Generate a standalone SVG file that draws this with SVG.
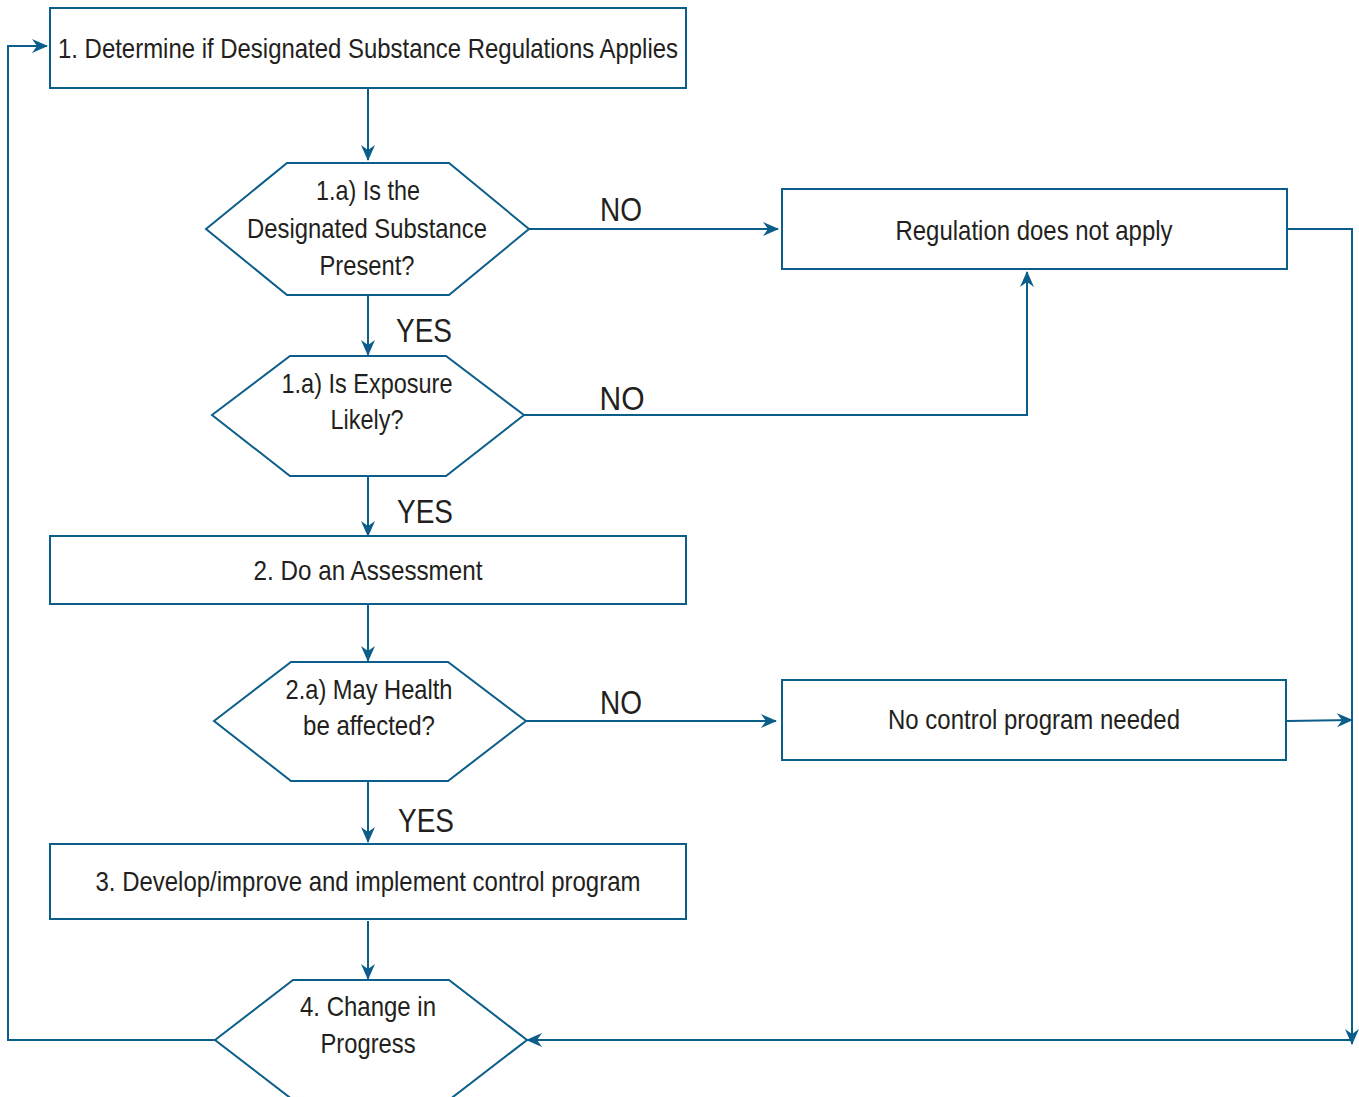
<svg xmlns="http://www.w3.org/2000/svg" width="1359" height="1097" viewBox="0 0 1359 1097">
<defs>
<marker id="ah" markerUnits="userSpaceOnUse" markerWidth="16" markerHeight="14" refX="15" refY="7" orient="auto">
<path d="M0,0 L16,7 L0,14 L5,7 z" fill="#0b5e89"/>
</marker>
</defs>
<style>
.shape{fill:#fff;stroke:#0b5e89;stroke-width:2}
.conn{fill:none;stroke:#0b5e89;stroke-width:2}
.t{font-family:"Liberation Sans",Arial,sans-serif;font-size:28px;fill:#231f20;text-anchor:middle}
.lbl{font-family:"Liberation Sans",Arial,sans-serif;font-size:33px;fill:#231f20;text-anchor:middle}
</style>
<rect width="1359" height="1097" fill="#fff"/>
<g id="connectors">
<path class="conn" d="M368,88 V160" marker-end="url(#ah)"/>
<path class="conn" d="M529,229 H778" marker-end="url(#ah)"/>
<path class="conn" d="M1287,229 H1352 V1044" marker-end="url(#ah)"/>
<path class="conn" d="M368,295 V355" marker-end="url(#ah)"/>
<path class="conn" d="M524,415 H1027 V272" marker-end="url(#ah)"/>
<path class="conn" d="M368,476 V536" marker-end="url(#ah)"/>
<path class="conn" d="M368,604 V661" marker-end="url(#ah)"/>
<path class="conn" d="M526,721 H776" marker-end="url(#ah)"/>
<path class="conn" d="M1287,721 L1352,720" marker-end="url(#ah)"/>
<path class="conn" d="M368,781 V842" marker-end="url(#ah)"/>
<path class="conn" d="M368,921 V979" marker-end="url(#ah)"/>
<path class="conn" d="M1352,1040 H527" marker-end="url(#ah)"/>
<path class="conn" d="M215,1040 H8 V46 H47" marker-end="url(#ah)"/>
<text class="lbl" x="621" y="221" textLength="42" lengthAdjust="spacingAndGlyphs">NO</text>
<text class="lbl" x="424" y="342" textLength="56" lengthAdjust="spacingAndGlyphs">YES</text>
<text class="lbl" x="622" y="410" textLength="45" lengthAdjust="spacingAndGlyphs">NO</text>
<text class="lbl" x="425" y="523" textLength="56" lengthAdjust="spacingAndGlyphs">YES</text>
<text class="lbl" x="621" y="714" textLength="42" lengthAdjust="spacingAndGlyphs">NO</text>
<text class="lbl" x="426" y="832" textLength="56" lengthAdjust="spacingAndGlyphs">YES</text>
</g>
<g id="n1">
<rect class="shape" x="50" y="8" width="636" height="80"/>
<text class="t" x="368" y="58" textLength="620" lengthAdjust="spacingAndGlyphs">1. Determine if Designated Substance Regulations Applies</text>
</g>
<g id="d1">
<polygon class="shape" points="206,229 287,163 449,163 529,229 449,295 287,295"/>
<text class="t" x="368" y="200" textLength="104" lengthAdjust="spacingAndGlyphs">1.a) Is the</text>
<text class="t" x="367" y="238" textLength="240" lengthAdjust="spacingAndGlyphs">Designated Substance</text>
<text class="t" x="367" y="275" textLength="95" lengthAdjust="spacingAndGlyphs">Present?</text>
</g>
<g id="n_reg">
<rect class="shape" x="782" y="189" width="505" height="80"/>
<text class="t" x="1034" y="240" textLength="277" lengthAdjust="spacingAndGlyphs">Regulation does not apply</text>
</g>
<g id="d2">
<polygon class="shape" points="212,415 290,356 446,356 524,415 446,476 290,476"/>
<text class="t" x="367" y="393" textLength="171" lengthAdjust="spacingAndGlyphs">1.a) Is Exposure</text>
<text class="t" x="367" y="429" textLength="73" lengthAdjust="spacingAndGlyphs">Likely?</text>
</g>
<g id="n2">
<rect class="shape" x="50" y="536" width="636" height="68"/>
<text class="t" x="368" y="580" textLength="229" lengthAdjust="spacingAndGlyphs">2. Do an Assessment</text>
</g>
<g id="d3">
<polygon class="shape" points="214,721 291,662 448,662 526,721 448,781 291,781"/>
<text class="t" x="369" y="699" textLength="167" lengthAdjust="spacingAndGlyphs">2.a) May Health</text>
<text class="t" x="369" y="735" textLength="132" lengthAdjust="spacingAndGlyphs">be affected?</text>
</g>
<g id="n_noctrl">
<rect class="shape" x="782" y="680" width="504" height="80"/>
<text class="t" x="1034" y="729" textLength="292" lengthAdjust="spacingAndGlyphs">No control program needed</text>
</g>
<g id="n3">
<rect class="shape" x="50" y="844" width="636" height="75"/>
<text class="t" x="368" y="891" textLength="545" lengthAdjust="spacingAndGlyphs">3. Develop/improve and implement control program</text>
</g>
<g id="d4">
<polygon class="shape" points="215,1040 293,980 449,980 527,1040 449,1100 293,1100"/>
<text class="t" x="368" y="1016" textLength="136" lengthAdjust="spacingAndGlyphs">4. Change in</text>
<text class="t" x="368" y="1053" textLength="95" lengthAdjust="spacingAndGlyphs">Progress</text>
</g>
</svg>
